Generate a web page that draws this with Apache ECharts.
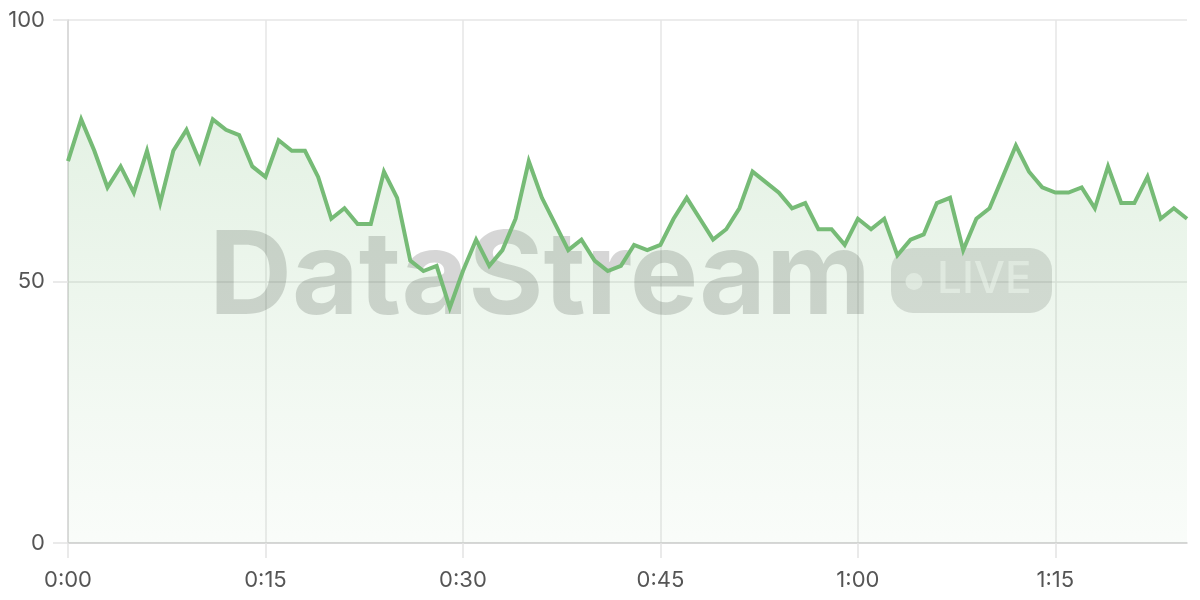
<!DOCTYPE html>
<html>
<head>
<meta charset="utf-8">
<script src="https://cdn.jsdelivr.net/npm/echarts@6/dist/echarts.min.js"></script>
<style>html,body{margin:0;padding:0;background:#fff}#c{width:1200px;height:600px}</style>
</head>
<body>
<div id="c"></div>
<script>
const minutes = Array.from({length: 86}, (_, i) => i);
const categories = minutes.map(m => Math.floor(m / 60) + ':' + String(m % 60).padStart(2, '0'));
const values = [
  73, 81, 75, 68, 72, 67, 75, 65, 75, 79,
  73, 81, 79, 78, 72, 70, 77, 75, 75, 70,
  62, 64, 61, 61, 71, 66, 54, 52, 53, 45,
  52, 58, 53, 56, 62, 73, 66, 61, 56, 58,
  54, 52, 53, 57, 56, 57, 62, 66, 62, 58,
  60, 64, 71, 69, 67, 64, 65, 60, 60, 57,
  62, 60, 62, 55, 58, 59, 65, 66, 56, 62,
  64, 70, 76, 71, 68, 67, 67, 68, 64, 72,
  65, 65, 70, 62, 64, 62
];
const yTicks = [0, 50, 100];
const watermarkText = 'DataStream';
const badgeText = 'LIVE';

const chart = echarts.init(document.getElementById('c'), null, {renderer: 'canvas'});
const font = 'Inter, "Noto Sans", sans-serif';
chart.setOption({
  animation: false,
  backgroundColor: '#ffffff',
  grid: {left: 68, right: 13, top: 20, bottom: 57, containLabel: false},
  xAxis: {
    type: 'category',
    data: categories,
    boundaryGap: false,
    axisLine: {show: true, lineStyle: {color: '#d0d0d0', width: 1.5}},
    axisTick: {show: true, interval: 14, length: 15, lineStyle: {color: '#e3e3e3', width: 1.5}},
    axisLabel: {interval: 14, margin: 26, color: '#555', fontSize: 22, fontFamily: font},
    splitLine: {show: true, interval: 14, lineStyle: {color: '#e6e6e6', width: 1.5}}
  },
  yAxis: {
    type: 'value',
    min: yTicks[0], max: yTicks[yTicks.length - 1], interval: 50,
    axisLine: {show: true, lineStyle: {color: '#d6d6d6', width: 1.5}},
    axisTick: {show: true, length: 15, lineStyle: {color: '#e3e3e3', width: 1.5}},
    axisLabel: {margin: 23, color: '#555', fontSize: 22, fontFamily: font},
    splitLine: {show: true, lineStyle: {color: '#e6e6e6', width: 1.5}}
  },
  graphic: [
    {type: 'text', z: 1, left: 209, top: 222,
     style: {text: watermarkText, font: '700 115px ' + font, fill: 'rgba(0,0,0,0.16)'}},
    {type: 'rect', z: 1, shape: {x: 891, y: 248, width: 161, height: 65, r: 22},
     style: {fill: 'rgba(0,0,0,0.13)'}},
    {type: 'circle', z: 1, shape: {cx: 914, cy: 281.5, r: 8.5},
     style: {fill: 'rgba(255,255,255,0.55)'}},
    {type: 'text', z: 1, left: 937, top: 258,
     style: {text: badgeText, font: '500 44px ' + font, fill: 'rgba(255,255,255,0.55)'}}
  ],
  series: [{
    type: 'line',
    data: values,
    symbol: 'none',
    z: 3,
    lineStyle: {color: '#76bb76', width: 4, join: 'miter'},
    areaStyle: {
      color: new echarts.graphic.LinearGradient(0, 0, 0, 1, [
        {offset: 0, color: 'rgba(118,187,118,0.28)'},
        {offset: 1, color: 'rgba(118,187,118,0.06)'}
      ])
    }
  }]
});
</script>
</body>
</html>
